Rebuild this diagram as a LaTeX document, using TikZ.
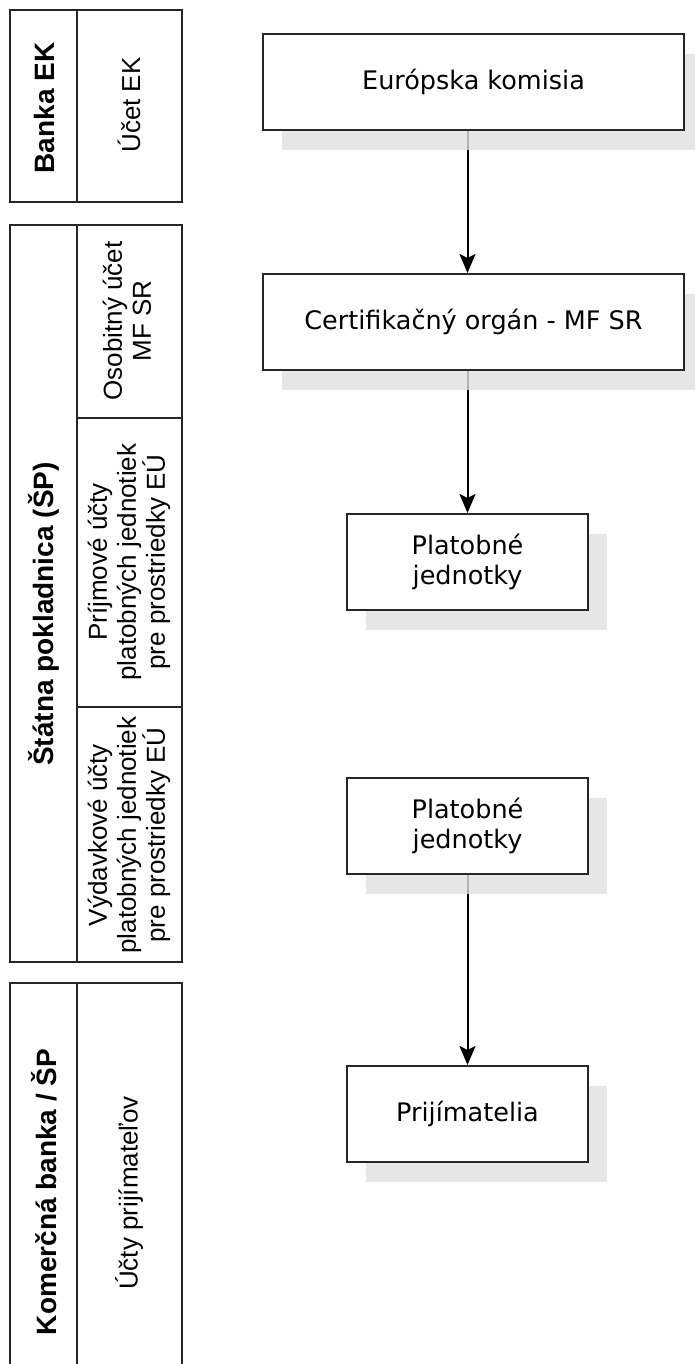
\documentclass[tikz,border=0pt]{standalone}
\usepackage{fontspec}
\setmainfont{Liberation Sans}
\newfontfamily\boxfont{DejaVu Sans}
\usetikzlibrary{arrows.meta,shadows,backgrounds}

\begin{document}
\begin{tikzpicture}[x=1pt, y=-1pt,
    acctframe/.style={draw=black!85, line width=2pt},
    headtext/.style={rotate=90, inner sep=0pt, font=\fontsize{28}{32}\selectfont\bfseries},
    accttext/.style={rotate=90, inner sep=0pt, align=center, font=\fontsize{26}{29}\selectfont},
    flowbox/.style={rectangle, draw=black!85, line width=2pt, fill=white, minimum height=96pt, inner sep=0pt, align=center,
        font=\boxfont\fontsize{25.5}{30}\selectfont,
        general shadow={fill=black!12, fill opacity=0.8, shadow xshift=19pt, shadow yshift=-20pt}},
    flow/.style={line width=2pt, -{Stealth[length=19pt, width=16pt, inset=4pt]}}]
    \clip (0,0) rectangle (695,1364);

    \draw[acctframe] (10,10) rectangle (182,202);
    \draw[acctframe] (77,10) -- (77,202);
    \draw[acctframe] (10,225) rectangle (182,962);
    \draw[acctframe] (77,225) -- (77,962);
    \draw[acctframe] (77,418) -- (182,418);
    \draw[acctframe] (77,707) -- (182,707);
    \draw[acctframe] (10,983) rectangle (182,1401);
    \draw[acctframe] (77,983) -- (77,1401);

    \node[headtext] (bek) at (44,108) {Banka EK};
    \node[accttext] (uek) at (129,105) {Účet EK};
    \node[headtext] (sp) at (44,614) {Štátna pokladnica (ŠP)};
    \node[accttext] (osu) at (127,321) {Osobitný účet\\MF SR};
    \node[accttext] (pru) at (129,562) {Príjmové účty\\platobných jednotiek\\pre prostriedky EÚ};
    \node[accttext] (vyu) at (129,835) {Výdavkové účty\\platobných jednotiek\\pre prostriedky EÚ};
    \node[headtext] (kb) at (44,1192) {Komerčná banka / ŠP};
    \node[accttext] (upr) at (129,1193) {Účty prijímateľov};

    \node[flowbox, minimum width=421pt] (ek) at (473.5,82) {Európska komisia};
    \node[flowbox, minimum width=421pt] (co) at (473.5,322) {Certifikačný orgán - MF SR};
    \node[flowbox, minimum width=241pt] (pj1) at (467.5,562) {Platobné\\jednotky};
    \node[flowbox, minimum width=241pt] (pj2) at (467.5,826) {Platobné\\jednotky};
    \node[flowbox, minimum width=241pt] (pr) at (467.5,1114) {Prijímatelia};

    \begin{scope}[on background layer]
        \draw[flow] (ek.south -| pj1) -- (co.north -| pj1);
        \draw[flow] (co.south -| pj1) -- (pj1.north);
        \draw[flow] (pj2) -- (pr);
    \end{scope}
\end{tikzpicture}
\end{document}
